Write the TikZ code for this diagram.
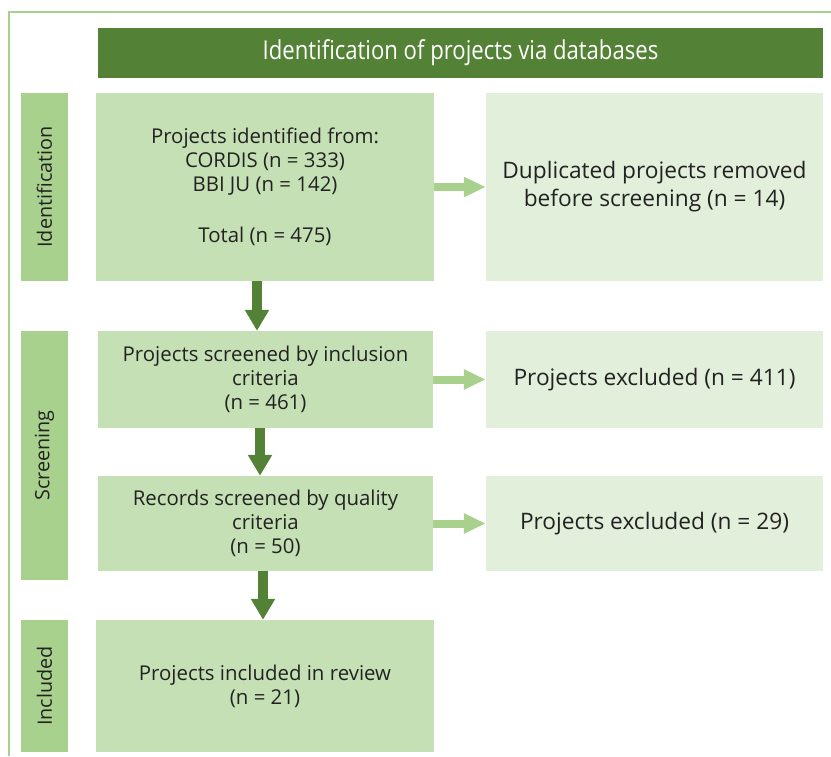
\documentclass[tikz,border=0pt]{standalone}
\usepackage{fontspec}
\usepackage{graphicx}
\setmainfont{Open Sans}
\usetikzlibrary{arrows.meta}
\definecolor{darkgreen}{HTML}{538135}
\definecolor{midgreen}{HTML}{A9D18E}
\definecolor{boxgreen}{HTML}{C5E0B4}
\definecolor{palegreen}{HTML}{E2EFDA}
\definecolor{inktext}{HTML}{222222}
\tikzset{
  every node/.style={inner sep=2pt, align=center, text=inktext},
  headbox/.style={fill=darkgreen, text=white, minimum width=725pt, minimum height=50pt,
    font=\fontsize{26}{30}\selectfont},
  phasebar/.style={fill=midgreen, rotate=90, minimum height=47pt,
    font=\fontsize{19.8}{24}\selectfont},
  mainbox/.style={fill=boxgreen, font=\fontsize{20.4}{23.8}\selectfont},
  sidebox/.style={fill=palegreen, minimum width=337pt, font=\fontsize{22.7}{28}\selectfont},
  downarrow/.style={draw=darkgreen, line width=10pt,
    -{Triangle[width=23pt,length=21pt]}},
  sidearrow/.style={draw=midgreen, line width=8pt,
    -{Triangle[width=19pt,length=22pt]}},
}
\begin{document}
\begin{tikzpicture}[x=1pt,y=-1pt]
  \useasboundingbox (0,0) rectangle (831,756);
  % outer frame, running off the right and bottom edges
  \draw[midgreen, line width=1.6pt] (9,756) -- (9,12) -- (831,12);

  % title bar
  \node[headbox] (head) at (460.5,53) {\scalebox{0.85}[1]{Identification of projects via databases}};

  % phase bars
  \node[phasebar, minimum width=188pt] (pid) at (44.5,187) {Identification};
  \node[phasebar, minimum width=249pt] (psc) at (44.5,455.5) {Screening};
  \node[phasebar, minimum width=132pt] (pin) at (44.5,686) {Included};

  % main flow boxes
  \node[mainbox, minimum width=338pt, minimum height=188pt] (b1) at (265,187)
    {Projects identified from:\\CORDIS (n = 333)\\BBI JU (n = 142)\\[27pt]Total (n = 475)};
  \node[mainbox, minimum width=335pt, minimum height=97pt] (b2) at (265.5,379.5)
    {Projects screened by inclusion\\criteria\\(n = 461)};
  \node[mainbox, minimum width=335pt, minimum height=95pt] (b3) at (265.5,523.5)
    {Records screened by quality\\criteria\\(n = 50)};
  \node[mainbox, minimum width=338pt, minimum height=132pt] (b4) at (265,686)
    {Projects included in review\\(n = 21)};

  % exclusion boxes
  \node[sidebox, minimum height=188pt] (d1) at (654.5,187)
    {Duplicated projects removed\\before screening (n = 14)};
  \node[sidebox, minimum height=97pt] (e1) at (654.5,379.5) {Projects excluded (n = 411)};
  \node[sidebox, minimum height=95pt] (e2) at (654.5,523.5) {Projects excluded (n = 29)};

  % connectors
  \draw[downarrow] ([xshift=-8pt]b1.south) -- ([xshift=-8.5pt]b2.north);
  \draw[downarrow] ([xshift=-5.5pt]b2.south) -- ([xshift=-5.5pt]b3.north);
  \draw[downarrow] ([xshift=-2.5pt]b3.south) -- ([xshift=-2pt]b4.north);
  \draw[sidearrow] (b1.east) -- (d1.west);
  \draw[sidearrow] (b2.east) -- (e1.west);
  \draw[sidearrow] (b3.east) -- (e2.west);
\end{tikzpicture}
\end{document}
